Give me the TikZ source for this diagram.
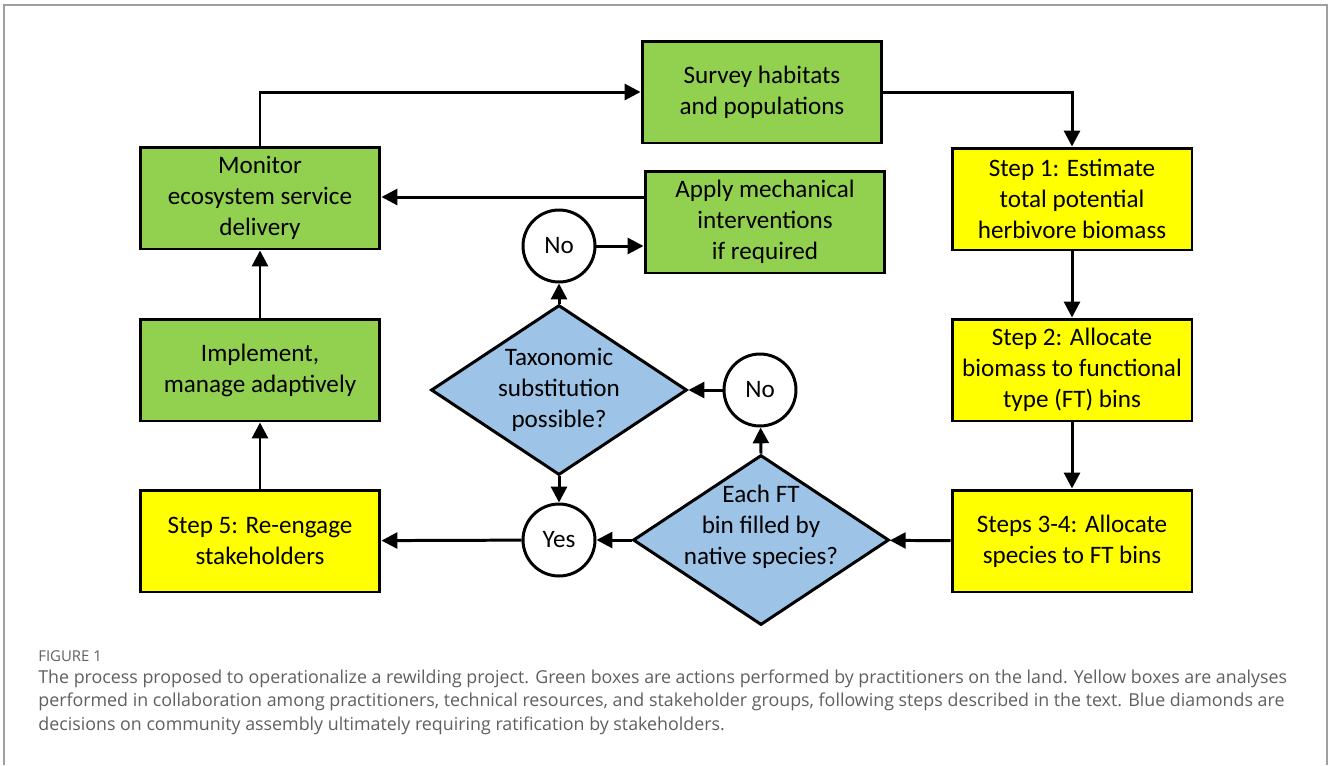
\documentclass[tikz,border=0pt]{standalone}
\usepackage{fontspec}
\setmainfont{Carlito}
\newfontfamily\capfont{Open Sans}
\usetikzlibrary{positioning}
\usetikzlibrary{shapes.geometric}
\usetikzlibrary{arrows.meta}
\definecolor{actgreen}{RGB}{146,208,80}
\definecolor{stepyellow}{RGB}{255,255,0}
\definecolor{decblue}{RGB}{157,195,230}
\definecolor{capgray}{RGB}{95,95,95}
\tikzset{>={Triangle[width=9pt,length=9pt]}}
\tikzset{flow/.style={->,line width=1.7pt}}
\tikzset{act/.style={draw,line width=1.7pt,fill=actgreen,minimum width=4.8cm,minimum height=2.04cm,align=center,inner sep=0pt,font=\fontsize{14.3}{17.6}\selectfont}}
\tikzset{stepbox/.style={act,fill=stepyellow}}
\tikzset{dec/.style={draw,diamond,line width=1.7pt,fill=decblue,minimum width=5.12cm,minimum height=3.4cm,inner sep=0pt}}
\tikzset{dectext/.style={align=center,font=\fontsize{14.3}{17.6}\selectfont}}
\tikzset{ans/.style={draw,circle,line width=1.7pt,fill=white,minimum size=1.44cm,inner sep=0pt,font=\fontsize{14.3}{16}\selectfont}}

\begin{document}
\begin{tikzpicture}[x=0.02cm,y=-0.02cm]
\useasboundingbox (0,0) rectangle (1328,765);
\draw[capgray!60,line width=0.8pt] (4,765) -- (4,5) -- (1327,5) -- (1327,765);

% green actions
\node[act] (survey) at (762,92) {Survey habitats\\and populations};
\node[act] (monitor) at (260,198) {Monitor\\ecosystem service\\delivery};
\node[act] (apply) at (765,222) {Apply mechanical\\interventions\\if required};
\node[act] (implement) at (260,370) {Implement,\\manage adaptively};

% yellow analyses
\node[stepbox] (step1) at (1072,199) {Step 1: Estimate\\total potential\\herbivore biomass};
\node[stepbox] (step2) at (1072,370) {Step 2: Allocate\\biomass to functional\\type (FT) bins};
\node[stepbox] (step34) at (1072,541) {Steps 3-4: Allocate\\species to FT bins};
\node[stepbox] (step5) at (260,541) {Step 5: Re-engage\\stakeholders};

% blue decisions
\node[dec] (taxo) at (559,390) {};
\node[dectext] (taxotext) at (taxo.center) {Taxonomic\\substitution\\possible?};
\node[dec] (filled) at (761,540) {};
\node[dectext] (filledtext) at ([yshift=0.26cm]filled.center) {Each FT\\bin filled by\\native species?};

\node[ans] (no1) at (559,246) {No};
\node[ans] (no2) at (760,390) {No};
\node[ans] (yes) at (559,540) {Yes};

\coordinate (applyin) at ([yshift=0.5cm]apply.west);

\draw[flow] (monitor.north) |- (survey.west);
\draw[flow] (survey.east) -| (step1.north);
\draw[flow] (step1) -- (step2);
\draw[flow] (step2) -- (step34);
\draw[flow] (step34) -- (filled);
\draw[flow] (filled) -- (yes);
\draw[flow] (yes) -- (step5);
\draw[flow] (step5) -- (implement);
\draw[flow] (implement) -- (monitor);
\draw[flow] (filled.north) -- (no2);
\draw[flow] (no2) -- (taxo.east);
\draw[flow] (taxo.north) -- (no1);
\draw[flow] (taxo.south) -- (yes);
\draw[flow] (no1) -- (no1 -| apply.west);
\draw[flow] (applyin) -- (applyin -| monitor.east);

% caption
\node[anchor=north west,inner sep=0pt,text=capgray,font=\capfont\fontsize{8.5}{10}\selectfont] (figlabel) at (38,650) {FIGURE 1};
\node[anchor=north west,inner sep=0pt,align=left,text=capgray,font=\capfont\fontsize{10.15}{13.6}\selectfont] (caption) at (38,669) {The process proposed to operationalize a rewilding project. Green boxes are actions performed by practitioners on the land. Yellow boxes are analyses\\performed in collaboration among practitioners, technical resources, and stakeholder groups, following steps described in the text. Blue diamonds are\\decisions on community assembly ultimately requiring ratification by stakeholders.};
\end{tikzpicture}
\end{document}
